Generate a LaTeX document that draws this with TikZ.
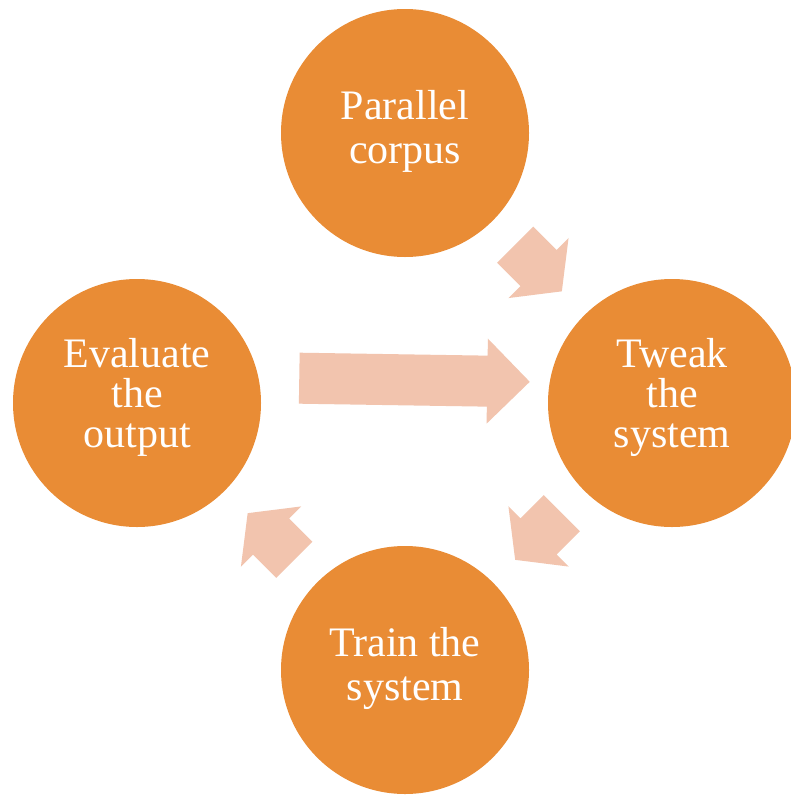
\documentclass[tikz,border=0pt]{standalone}
\usepackage{fontspec}
\setmainfont{Liberation Serif}
\usetikzlibrary{calc}

\definecolor{stepfill}{RGB}{233,140,53}
\definecolor{arrowfill}{RGB}{242,196,174}

\tikzset{
  x=1pt, y=-1pt,
  stage/.style={circle, fill=stepfill, draw=none, minimum size=248pt, inner sep=0pt,
    text=white, align=center},
  twolines/.style={stage, font=\fontsize{42}{44}\selectfont, text depth=13pt},
  threelines/.style={stage, font=\fontsize{42}{40}\selectfont, text depth=21pt},
  % block arrow centred on its origin, pointing along +x
  % #1 = total length, #2 = head length
  pics/blockarrow/.style n args={2}{code={
    \fill[arrowfill] ({-#1/2},-25.5) -- ({#1/2-#2},-25.5) -- ({#1/2-#2},-42.5)
      -- ({#1/2},0) -- ({#1/2-#2},42.5) -- ({#1/2-#2},25.5) -- ({-#1/2},25.5) -- cycle;
  }}
}

\begin{document}
\begin{tikzpicture}
  \useasboundingbox (0,0) rectangle (791,795);
  \fill[white] (0,0) rectangle (791,795);

  \node[twolines]   (corpus) at (405,133) {Parallel\\corpus};
  \node[threelines] (tweak)  at (672,403) {Tweak\\the\\system};
  \node[twolines]   (train)  at (405,670) {Train the\\system};
  \node[threelines] (eval)   at (137,403) {Evaluate\\the\\output};

  \pic[rotate=-45]  at ($(corpus.center)!0.5!(tweak.center)$) {blockarrow={66}{33}};
  \pic[rotate=-135] at ($(tweak.center)!0.5!(train.center)$) {blockarrow={66}{33}};
  \pic[rotate=135]  at ($(train.center)!0.5!(eval.center)$)  {blockarrow={66}{33}};
  \pic[rotate=-0.9] at ($(eval.center)!0.5!(tweak.center)+(10,-23)$) {blockarrow={230.5}{42.5}};
\end{tikzpicture}
\end{document}
